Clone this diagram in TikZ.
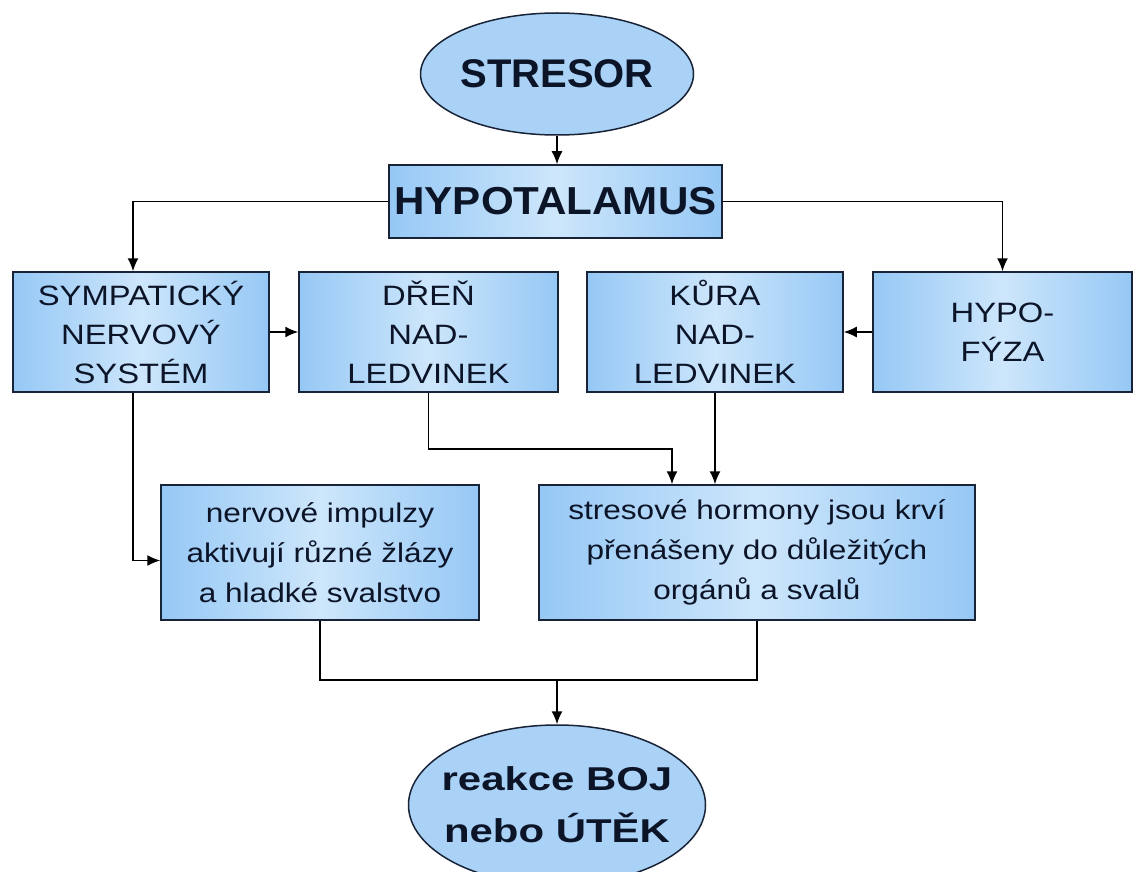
\documentclass[tikz,border=0pt]{standalone}
\usepackage{fontspec}
\setmainfont{Liberation Sans}
\newfontfamily\boxfont[FakeStretch=1.17]{Liberation Sans}
\newfontfamily\hypofont[FakeStretch=1.08]{Liberation Sans}
\newfontfamily\endfont[FakeStretch=1.27]{Liberation Sans}
\usetikzlibrary{
  calc,
  positioning,
  arrows.meta,
  shapes.geometric
}
\definecolor{boxline}{RGB}{25,35,55}
\definecolor{boxedge}{RGB}{150,200,245}
\definecolor{boxmid}{RGB}{205,230,251}
\definecolor{ovalfill}{RGB}{170,210,247}
\definecolor{inktext}{RGB}{12,20,40}

\begin{document}
\begin{tikzpicture}[>=Latex, x=1pt, y=-1pt]
  \tikzset{
    card/.style={
      draw=boxline, line width=1.5pt,
      left color=boxedge, right color=boxedge, middle color=boxmid,
      inner sep=0pt, align=center, text=inktext
    },
    capsbox/.style={card, font=\boxfont\fontsize{28}{39}\selectfont, minimum height=120pt},
    notebox/.style={card, font=\boxfont\fontsize{27}{40}\selectfont, minimum height=135pt},
    oval/.style={ellipse, draw=boxline, line width=1.5pt, fill=ovalfill, inner sep=0pt},
    link/.style={-{Latex[length=13pt,width=11pt]}, line width=1.5pt},
    % every node/.style={font=\large}
  }

  \fill[white] (0,0) rectangle (1136,872);
  \useasboundingbox (0,0) rectangle (1136,872);

  \node[oval, minimum width=273pt, minimum height=122pt,
    label={[font=\bfseries\fontsize{40}{48}\selectfont, text=inktext]center:STRESOR}]
    (stresor) at (557,74) {};

  \node[card, font=\hypofont\bfseries\fontsize{39}{45}\selectfont,
    minimum width=333pt, minimum height=73pt] (hypo) at (555.5,201.5) {HYPOTALAMUS};

  \node[capsbox, minimum width=256pt] (sym) at (141,332) {SYMPATICKÝ\\NERVOVÝ\\SYSTÉM};
  \node[capsbox, minimum width=259pt] (dren) at (428.5,332) {DŘEŇ\\NAD-\\LEDVINEK};
  \node[capsbox, minimum width=256pt] (kura) at (715,332) {KŮRA\\NAD-\\LEDVINEK};
  \node[capsbox, minimum width=259pt] (hyfy) at (1002.5,332) {HYPO-\\FÝZA};

  \node[notebox, minimum width=318pt] (nerv) at (320,552.5)
    {nervové impulzy\\aktivují různé žlázy\\a hladké svalstvo};
  \node[notebox, minimum width=436pt] (stres) at (757,552.5)
    {stresové hormony jsou krví\\přenášeny do důležitých\\orgánů a svalů};

  \node[oval, minimum width=297pt, minimum height=160pt,
    label={[font=\endfont\bfseries\fontsize{33}{52}\selectfont, align=center, text=inktext]center:reakce BOJ\\nebo ÚTĚK}]
    (reakce) at (557,805) {};

  \coordinate (symtap) at ($(sym.north)+(-8,0)$);
  \coordinate (symdrop) at ($(sym.south)+(-8,0)$);
  \coordinate (join) at (557,680);

  \draw[link] (stresor.south) -- (stresor.south |- hypo.north);
  \draw[link] (hypo.west) -| (symtap);
  \draw[link] (hypo.east) -| (hyfy.north);
  \draw[link] (sym.east) -- (dren.west);
  \draw[link] (hyfy.west) -- (kura.east);
  \draw[link] (symdrop) |- ([yshift=-8pt]nerv.west);
  \draw[link] (dren.south) -- ++(0,56) -| ($(stres.north)+(-85,0)$);
  \draw[link] (kura.south) -- (kura.south |- stres.north);
  \draw[line width=1.5pt] (nerv.south) |- (join) -| (stres.south);
  \draw[link] (join) -- (reakce.north);
\end{tikzpicture}
\end{document}
